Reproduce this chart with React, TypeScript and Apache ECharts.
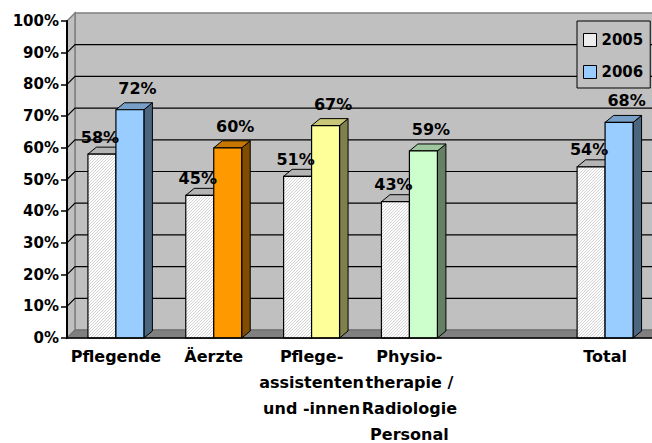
import React, { useEffect, useRef } from "react";
import * as echarts from "echarts";

const categories = [
  "Pflegende",
  "Äerzte",
  "Pflege-\nassistenten\nund -innen",
  "Physio-\ntherapie /\nRadiologie\nPersonal",
  "",
  "Total",
];
const values2005: (number | null)[] = [58, 45, 51, 43, null, 54];
const values2006: (number | null)[] = [72, 60, 67, 59, null, 68];
const colors2006: (string | null)[] = ["#99CCFF", "#FF9900", "#FFFF99", "#CCFFCC", null, "#99CCFF"];
const yTicks = [0, 10, 20, 30, 40, 50, 60, 70, 80, 90, 100];
const seriesNames = ["2005", "2006"];

const FONT = '"DejaVu Sans", Arial, sans-serif';
const WALL_DX = 8;
const WALL_DY = -8;
const BAR_DX = 8.5;
const BAR_DY = -7;
const BAR_RATIO = 0.286;

function shade(hex: string, f: number): string {
  const n = parseInt(hex.slice(1), 16);
  const r = Math.round(((n >> 16) & 255) * f);
  const g = Math.round(((n >> 8) & 255) * f);
  const b = Math.round((n & 255) * f);
  return "#" + [r, g, b].map((v) => v.toString(16).padStart(2, "0")).join("");
}

function hatch(x0: number, y0: number, w: number, h: number, s: number, color: string) {
  const out: any[] = [];
  for (let c = x0 + y0 + s; c < x0 + w + y0 + h; c += s) {
    const xa = Math.max(x0, c - (y0 + h));
    const xb = Math.min(x0 + w, c - y0);
    if (xb <= xa) continue;
    out.push({
      type: "line",
      shape: { x1: xa, y1: c - xa, x2: xb, y2: c - xb },
      style: { stroke: color, lineWidth: 1 },
      silent: true,
    });
  }
  return out;
}

export default function App() {
  const ref = useRef<HTMLDivElement>(null);

  useEffect(() => {
    document.body.style.margin = "0";
    if (!ref.current) return;
    const chart = echarts.init(ref.current, undefined, { renderer: "svg" });

    const barData: number[][] = [];
    categories.forEach((_, i) => {
      if (values2005[i] != null && values2006[i] != null) {
        barData.push([i, values2005[i] as number, values2006[i] as number]);
      }
    });

    const option: any = {
      animation: false,
      backgroundColor: "#FFFFFF",
      grid: { left: 67, right: -2, top: 21, bottom: 105, containLabel: false, outerBoundsMode: "none" },
      legend: {
        orient: "vertical",
        left: 577,
        top: 21,
        width: 73,
        padding: [11, 7, 8, 6],
        itemGap: 16,
        itemWidth: 13,
        itemHeight: 13,
        backgroundColor: "#C0C0C0",
        borderColor: "#000000",
        borderWidth: 1,
        icon: "rect",
        textStyle: { fontFamily: FONT, fontWeight: "bold", fontSize: 15, color: "#000", lineHeight: 16 },
        data: [
          { name: seriesNames[0], itemStyle: { color: "#EEEEEE", borderColor: "#000", borderWidth: 1 } },
          { name: seriesNames[1], itemStyle: { color: "#99CCFF", borderColor: "#000", borderWidth: 1 } },
        ],
      },
      xAxis: {
        type: "category",
        data: categories,
        z: 5,
        axisLine: { show: true, lineStyle: { color: "#000", width: 1.5 } },
        axisTick: { show: false },
        axisLabel: {
          interval: 0,
          margin: 5,
          color: "#000",
          fontFamily: FONT,
          fontWeight: "bold",
          fontSize: 16,
          lineHeight: 26,
        },
        splitLine: { show: false },
      },
      yAxis: {
        type: "value",
        min: 0,
        max: 100,
        interval: 10,
        z: 5,
        axisLine: { show: true, lineStyle: { color: "#000", width: 2 } },
        axisTick: { show: true, length: 6, lineStyle: { color: "#000", width: 1.5 } },
        axisLabel: {
          formatter: "{value}%",
          margin: 8,
          color: "#000",
          fontFamily: FONT,
          fontWeight: "bold",
          fontSize: 15,
        },
        splitLine: { show: false },
      },
      series: [
        {
          type: "custom",
          name: "walls",
          z: 1,
          silent: true,
          data: [[0, 0]],
          renderItem: (params: any, api: any) => {
            const cs = params.coordSys;
            const left = cs.x;
            const right = cs.x + cs.width;
            const farRight = right + WALL_DX + 20;
            const y0 = api.coord([0, 0])[1];
            const yTop = api.coord([0, 100])[1];
            const children: any[] = [];
            children.push({
              type: "rect",
              shape: { x: left + WALL_DX, y: yTop + WALL_DY, width: farRight - left - WALL_DX, height: y0 - yTop },
              style: { fill: "#C0C0C0", stroke: "#808080", lineWidth: 1.5 },
            });
            children.push({
              type: "polygon",
              shape: {
                points: [
                  [left, yTop],
                  [left + WALL_DX, yTop + WALL_DY],
                  [left + WALL_DX, y0 + WALL_DY],
                  [left, y0],
                ],
              },
              style: { fill: "#C0C0C0", stroke: "#808080", lineWidth: 1.5 },
            });
            yTicks.forEach((v) => {
              if (v <= 0 || v >= 100) return;
              const y = api.coord([0, v])[1];
              children.push({
                type: "polyline",
                shape: {
                  points: [
                    [left, y],
                    [left + WALL_DX, y + WALL_DY],
                    [farRight, y + WALL_DY],
                  ],
                },
                style: { stroke: "#000", lineWidth: 1.2, fill: "none" },
              });
            });
            children.push({
              type: "polygon",
              shape: {
                points: [
                  [left, y0],
                  [left + WALL_DX, y0 + WALL_DY],
                  [farRight, y0 + WALL_DY],
                  [farRight, y0],
                ],
              },
              style: { fill: "#808080", stroke: "#6A6A6A", lineWidth: 1 },
            });
            return { type: "group", children };
          },
        },
        {
          type: "custom",
          name: "bars",
          z: 2,
          silent: true,
          data: barData,
          renderItem: (params: any, api: any) => {
            const i = api.value(0);
            const v1 = api.value(1);
            const v2 = api.value(2);
            const base = api.coord([i, 0]);
            const band = api.size([1, 0])[0];
            const bw = band * BAR_RATIO;
            const cx = base[0];
            const yb = base[1];
            const y1 = api.coord([i, v1])[1];
            const y2 = api.coord([i, v2])[1];
            const x1 = cx - bw;
            const x2 = cx;
            const c2 = colors2006[i] || "#99CCFF";
            const ch: any[] = [];
            // 2005 bar
            ch.push({
              type: "polygon",
              shape: { points: [[x1 + bw, y1], [x1 + bw + BAR_DX, y1 + BAR_DY], [x1 + bw + BAR_DX, yb + BAR_DY], [x1 + bw, yb]] },
              style: { fill: "#808080", stroke: "#000", lineWidth: 1 },
            });
            ch.push({
              type: "polygon",
              shape: { points: [[x1, y1], [x1 + bw, y1], [x1 + bw + BAR_DX, y1 + BAR_DY], [x1 + BAR_DX, y1 + BAR_DY]] },
              style: { fill: "#B4B4B4", stroke: "#000", lineWidth: 1 },
            });
            ch.push({
              type: "rect",
              shape: { x: x1, y: y1, width: bw, height: yb - y1 },
              style: { fill: "#FFFFFF" },
            });
            hatch(x1, y1, bw, yb - y1, 3, "#CFCFCF").forEach((l) => ch.push(l));
            ch.push({
              type: "rect",
              shape: { x: x1, y: y1, width: bw, height: yb - y1 },
              style: { fill: "none", stroke: "#000", lineWidth: 1.2 },
            });
            // 2006 bar
            ch.push({
              type: "polygon",
              shape: { points: [[x2 + bw, y2], [x2 + bw + BAR_DX, y2 + BAR_DY], [x2 + bw + BAR_DX, yb + BAR_DY], [x2 + bw, yb]] },
              style: { fill: shade(c2, 0.5), stroke: "#000", lineWidth: 1 },
            });
            ch.push({
              type: "polygon",
              shape: { points: [[x2, y2], [x2 + bw, y2], [x2 + bw + BAR_DX, y2 + BAR_DY], [x2 + BAR_DX, y2 + BAR_DY]] },
              style: { fill: shade(c2, 0.78), stroke: "#000", lineWidth: 1 },
            });
            ch.push({
              type: "rect",
              shape: { x: x2, y: y2, width: bw, height: yb - y2 },
              style: { fill: c2, stroke: "#000", lineWidth: 1.2 },
            });
            // labels
            ch.push({
              type: "text",
              style: {
                text: v1 + "%",
                x: x1 + bw / 2 - 2,
                y: y1 - 17,
                align: "center",
                verticalAlign: "middle",
                fill: "#000",
                font: 'bold 16px "DejaVu Sans", Arial, sans-serif',
              },
            });
            ch.push({
              type: "text",
              style: {
                text: v2 + "%",
                x: x2 + bw / 2 + 7.5,
                y: y2 - 21.5,
                align: "center",
                verticalAlign: "middle",
                fill: "#000",
                font: 'bold 16px "DejaVu Sans", Arial, sans-serif',
              },
            });
            return { type: "group", children: ch };
          },
        },
        { type: "bar", name: seriesNames[0], data: [], itemStyle: { color: "#EEEEEE" } },
        { type: "bar", name: seriesNames[1], data: [], itemStyle: { color: "#99CCFF" } },
      ],
    };

    chart.setOption(option);
    return () => chart.dispose();
  }, []);

  return <div ref={ref} style={{ width: 652, height: 443 }} />;
}
